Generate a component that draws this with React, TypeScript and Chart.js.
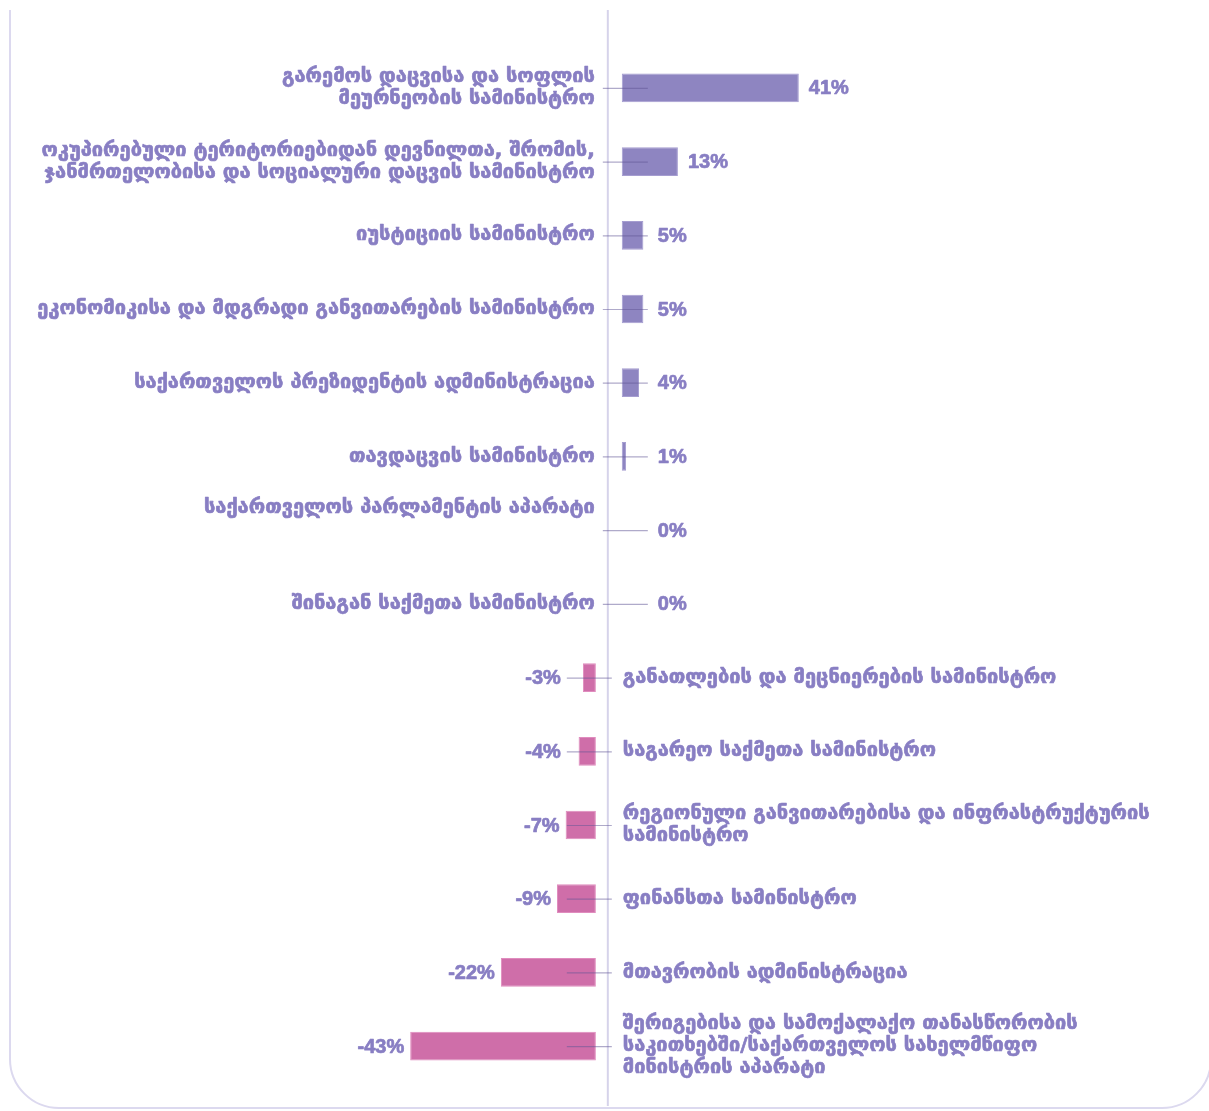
import React, { useEffect, useRef } from "react";
import { Chart, registerables } from "chart.js";

Chart.register(...registerables);

const categories: (string | string[])[] = [
  ["გარემოს დაცვისა და სოფლის", "მეურნეობის სამინისტრო"],
  ["ოკუპირებული ტერიტორიებიდან დევნილთა, შრომის,", "ჯანმრთელობისა და სოციალური დაცვის სამინისტრო"],
  "იუსტიციის სამინისტრო",
  "ეკონომიკისა და მდგრადი განვითარების სამინისტრო",
  "საქართველოს პრეზიდენტის ადმინისტრაცია",
  "თავდაცვის სამინისტრო",
  ["საქართველოს პარლამენტის აპარატი", "", ""],
  "შინაგან საქმეთა სამინისტრო",
  "განათლების და მეცნიერების სამინისტრო",
  "საგარეო საქმეთა სამინისტრო",
  ["რეგიონული განვითარებისა და ინფრასტრუქტურის", "სამინისტრო"],
  "ფინანსთა სამინისტრო",
  "მთავრობის ადმინისტრაცია",
  ["შერიგებისა და სამოქალაქო თანასწორობის", "საკითხებში/საქართველოს სახელმწიფო", "მინისტრის აპარატი"],
];

const values: number[] = [41, 13, 5, 5, 4, 1, 0, 0, -3, -4, -7, -9, -22, -43];

const GAP = 3; // visual gap (in value units) between the centre line and bar bases
const POS_COLOR = "#8e85c1";
const NEG_COLOR = "#cf6ea9";
const TEXT_COLOR = "#887ec3";
const CAT_FONT = "bold 20px 'DejaVu Sans', sans-serif";
const VAL_FONT = "bold 20px 'Liberation Sans', Arial, sans-serif";

function heavyText(ctx: any, t: string, x: number, y: number) {
  ctx.strokeText(t, x, y);
  ctx.fillText(t, x, y);
}

const labelPlugin = {
  id: "divergingLabels",
  afterDatasetsDraw(chart: any) {
    const ctx = chart.ctx;
    const xs = chart.scales.x;
    const ys = chart.scales.y;
    const zero = xs.getPixelForValue(0);
    ctx.save();
    // centre line
    ctx.strokeStyle = "#d6d3ea";
    ctx.lineWidth = 2;
    ctx.beginPath();
    ctx.moveTo(zero - 1, 10);
    ctx.lineTo(zero - 1, 1106);
    ctx.stroke();

    ctx.textBaseline = "middle";
    values.forEach((v, i) => {
      const y = ys.getPixelForValue(i);
      const lines = Array.isArray(categories[i]) ? (categories[i] as string[]) : [categories[i] as string];
      const lh = 22;
      const top = y - ((lines.length - 1) * lh) / 2;
      // leader line
      ctx.strokeStyle = "rgba(95,85,150,0.5)";
      ctx.lineWidth = 1.2;
      ctx.beginPath();
      if (v >= 0) {
        ctx.moveTo(zero - 6, y + 0.5);
        ctx.lineTo(zero + 39, y + 0.5);
      } else {
        ctx.moveTo(zero - 42, y + 0.5);
        ctx.lineTo(zero + 3, y + 0.5);
      }
      ctx.stroke();

      ctx.fillStyle = TEXT_COLOR;
      ctx.strokeStyle = TEXT_COLOR;
      ctx.lineWidth = 0.7;
      ctx.lineJoin = "round";
      if (v >= 0) {
        const barEnd = xs.getPixelForValue(GAP + v);
        const vx = Math.max(barEnd, zero + 39) + 10;
        ctx.font = VAL_FONT;
        ctx.textAlign = "left";
        heavyText(ctx, v + "%", vx, y + 1);
        ctx.font = CAT_FONT;
        ctx.textAlign = "right";
        lines.forEach((t, k) => heavyText(ctx, t, zero - 14, top + k * lh));
      } else {
        const barStart = xs.getPixelForValue(-GAP + v);
        const vx = Math.min(barStart, zero - 42) - 6;
        ctx.font = VAL_FONT;
        ctx.textAlign = "right";
        heavyText(ctx, v + "%", vx, y + 1);
        ctx.font = CAT_FONT;
        ctx.textAlign = "left";
        lines.forEach((t, k) => heavyText(ctx, t, zero + 14, top + k * lh));
      }
    });
    ctx.restore();
  },
};

export default function App() {
  const ref = useRef<HTMLCanvasElement | null>(null);
  useEffect(() => {
    if (!ref.current) return;
    const chart = new Chart(ref.current, {
      type: "bar",
      data: {
        labels: categories.map((c) => (Array.isArray(c) ? c.join(" ") : c)),
        datasets: [
          {
            data: values.map((v) => (v >= 0 ? [GAP, GAP + v] : [-GAP + v, -GAP])) as any,
            backgroundColor: values.map((v) => (v >= 0 ? POS_COLOR : NEG_COLOR)),
            borderColor: values.map((v) => (v >= 0 ? "#a59dd0" : "#e08cbe")),
            borderWidth: 1,
            borderSkipped: false,
            barPercentage: 0.78,
            categoryPercentage: 0.5,
          },
        ],
      },
      options: {
        indexAxis: "y",
        responsive: false,
        animation: false,
        layout: { padding: { top: 51, bottom: 28, left: 0, right: 0 } },
        plugins: { legend: { display: false }, tooltip: { enabled: false } },
        scales: {
          x: { type: "linear", min: -141, max: 139, display: false },
          y: { type: "category", display: false },
        },
      },
      plugins: [labelPlugin],
    });
    return () => chart.destroy();
  }, []);

  return (
    <div style={{ position: "absolute", left: 0, top: 0, width: 1209, height: 1111, background: "#fff", overflow: "hidden" }}>
      <div style={{ position: "absolute", left: 0, top: 10, width: 1209, height: 1101, overflow: "hidden" }}>
        <div
          style={{
            position: "absolute",
            left: 9,
            top: -80,
            width: 1203,
            height: 1179,
            boxSizing: "border-box",
            border: "2px solid #dcd9ef",
            borderRadius: 50,
          }}
        />
      </div>
      <canvas ref={ref} width={1209} height={1111} style={{ position: "absolute", left: 0, top: 0 }} />
    </div>
  );
}
